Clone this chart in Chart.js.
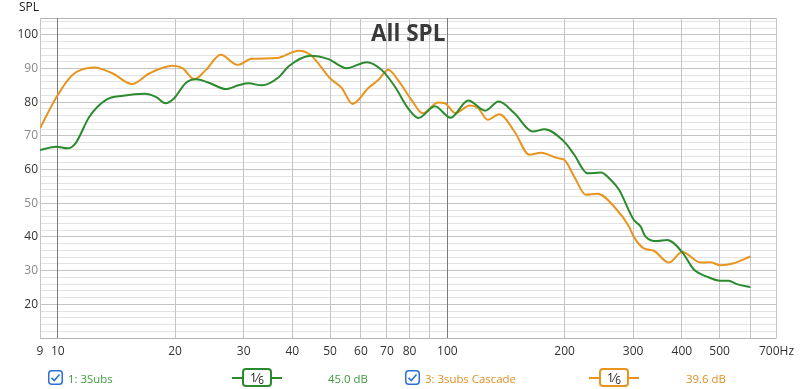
<!DOCTYPE html>
<html>
<head>
<meta charset="utf-8">
<script src="https://cdn.jsdelivr.net/npm/chart.js@4.4.1/dist/chart.umd.min.js"></script>
<style>
  html, body { margin: 0; padding: 0; background: #fff; }
  #wrap { position: relative; width: 800px; height: 389px; font-family: "Open Sans", "Noto Sans", sans-serif; }
  #grafico { position: absolute; left: 0; top: 0; }
  .item { position: absolute; top: 369px; height: 18px; display: flex; align-items: center; font-size: 11.4px; white-space: nowrap; }
  .caja { position: absolute; top: 370px; width: 15px; height: 15px; }
  .simbolo { position: absolute; top: 368px; width: 50px; height: 20px; }
  .simbolo .linea { position: absolute; left: 0; right: 0; top: 9px; height: 2px; }
  .simbolo .marco { position: absolute; left: 10px; top: 0; width: 26px; height: 15px; border: 2px solid; border-radius: 4px; background: #fff;
                    font-size: 12px; color: #222; text-align: center; line-height: 15px; }
  .simbolo .marco sub { font-size: 10px; vertical-align: -2px; }
</style>
</head>
<body>
<div id="wrap">
  <canvas id="grafico" width="800" height="389"></canvas>

  <svg class="caja" style="left:48px" viewBox="0 0 15 15"><rect x="0.75" y="0.75" width="13.5" height="13.5" rx="3" fill="#fff" stroke="#2a72d4" stroke-width="1.5"/><path d="M3.5 7.8 L6.3 10.5 L11.5 4.5" fill="none" stroke="#2a72d4" stroke-width="1.6"/></svg>
  <div class="item" style="left:68px; color:#3f9a3f">1: 3Subs</div>
  <div class="simbolo" style="left:232px">
    <div class="linea" style="background:#2b8a2e"></div>
    <div class="marco" style="border-color:#2b8a2e">1⁄<sub>6</sub></div>
  </div>
  <div class="item" style="left:328px; color:#3f9a3f">45.0 dB</div>

  <svg class="caja" style="left:405px" viewBox="0 0 15 15"><rect x="0.75" y="0.75" width="13.5" height="13.5" rx="3" fill="#fff" stroke="#2a72d4" stroke-width="1.5"/><path d="M3.5 7.8 L6.3 10.5 L11.5 4.5" fill="none" stroke="#2a72d4" stroke-width="1.6"/></svg>
  <div class="item" style="left:425px; color:#e08e24">3: 3subs Cascade</div>
  <div class="simbolo" style="left:589px">
    <div class="linea" style="background:#e8951f"></div>
    <div class="marco" style="border-color:#e8951f">1⁄<sub>6</sub></div>
  </div>
  <div class="item" style="left:686px; color:#e08e24">39.6 dB</div>
</div>

<script>
// Curvas (Hz / dB SPL)
const subsFrecuencias = [9, 9.9, 10.6, 11.1, 12.05, 13.3, 14.7, 16.7, 17.9, 18.9, 19.9, 21.3, 22.6, 24.4, 27, 29.2, 30.9, 33.4,
  36.9, 39.1, 44.5, 49.5, 55.2, 62.1, 67.8, 73.4, 79.3, 84.3, 92.9, 101.9, 113.2, 125, 135.5, 148.7, 165.8, 177.6,
  199.6, 211.8, 229, 247.7, 263, 276, 301, 313.5, 322.8, 345.9, 367, 400.8, 429, 464.4, 502.5, 527.5, 554, 600];
const subsSpl = [65.8, 66.8, 66.3, 67.8, 75.7, 80.7, 81.9, 82.5, 81.5, 79.7, 81.2, 85.7, 86.8, 85.8, 83.9, 85.1, 85.6, 85.0,
  87.4, 90.6, 93.8, 92.8, 90.1, 91.9, 89.6, 84.6, 78.2, 75.3, 78.8, 75.4, 80.5, 77.5, 80.2, 76.7, 71.3, 72.0,
  68.3, 64.4, 58.9, 59.1, 56.9, 54.0, 45.1, 43.1, 40.1, 38.8, 39.1, 35.5, 30.4, 28.2, 27.0, 27.0, 26.0, 25.1];

const cascadaFrecuencias = [9, 10, 10.9, 12.4, 13.8, 15.5, 17.2, 19.7, 20.9, 22.4, 24, 26.2, 28.9, 31.5, 36.5, 41.5, 44.5,
  50, 53.6, 57.1, 62.7, 66.5, 70.5, 74.8, 80.9, 86.5, 94.7, 98.5, 105, 114.3, 120, 127, 136, 148.7, 162.5, 174, 192,
  199.6, 211.8, 227, 243, 270, 292.7, 301, 319.7, 339, 370.5, 400.8, 446.7, 473.8, 502.5, 543.7, 600];
const cascadaSpl = [72.3, 82.2, 88.1, 90.3, 88.6, 85.4, 88.6, 90.8, 90.1, 86.8, 89.6, 94.1, 91.1, 92.9, 93.1, 95.3, 94.1,
  87.1, 84.2, 79.5, 84.2, 86.6, 89.6, 86.5, 80.7, 76.7, 79.9, 79.7, 76.8, 79.0, 78.2, 74.8, 76.4, 71.3, 64.4, 65.0, 63.4,
  62.9, 57.9, 52.5, 52.8, 48.6, 43.1, 40.1, 36.6, 35.9, 32.4, 35.5, 32.4, 32.5, 31.6, 32.2, 34.2];

const ticksX = [9, 10, 20, 30, 40, 50, 60, 70, 80, 90, 100, 200, 300, 400, 500, 600, 700];
const etiquetasX = ['9', '10', '20', '30', '40', '50', '60', '70', '80', '', '100', '200', '300', '400', '500', '', '700Hz'];
const ticksY = [];
for (let v = 10; v <= 104; v += 2) ticksY.push(v);
ticksY.push(105);

const aPuntos = (xs, ys) => xs.map((x, i) => ({ x, y: ys[i] }));

// Título "All SPL" dentro del área y rótulo "SPL" del eje
const textos = {
  id: 'textos',
  afterDraw(chart) {
    const { ctx, chartArea } = chart;
    ctx.save();
    ctx.fillStyle = '#3a3a3a';
    ctx.font = 'bold 22.5px "Open Sans"';
    ctx.textAlign = 'center';
    ctx.textBaseline = 'middle';
    ctx.fillText('All SPL', (chartArea.left + chartArea.right) / 2, 35);
    ctx.fillStyle = '#222';
    ctx.font = '12px "Open Sans"';
    ctx.textAlign = 'left';
    ctx.fillText('SPL', 19, 8);
    ctx.restore();
  }
};

new Chart(document.getElementById('grafico'), {
  type: 'line',
  data: {
    datasets: [
      { label: '1: 3Subs', data: aPuntos(subsFrecuencias, subsSpl), borderColor: '#2b8a2e', borderWidth: 2,
        pointRadius: 0, cubicInterpolationMode: 'monotone', fill: false },
      { label: '3: 3subs Cascade', data: aPuntos(cascadaFrecuencias, cascadaSpl), borderColor: '#e8951f', borderWidth: 2,
        pointRadius: 0, cubicInterpolationMode: 'monotone', fill: false },
    ],
  },
  options: {
    responsive: false,
    animation: false,
    layout: { padding: { top: 18, right: 20, left: 0, bottom: 0 } },
    plugins: { legend: { display: false }, tooltip: { enabled: false } },
    scales: {
      x: {
        type: 'logarithmic', min: 9, max: 700,
        afterBuildTicks: (s) => { s.ticks = ticksX.map(v => ({ value: v })); },
        afterFit: (s) => { s.height = 51; },
        grid: {
          drawTicks: false, z: -1,
          color: (c) => (c.tick && (c.tick.value === 10 || c.tick.value === 100)) ? '#7a7a7a' : '#c4c4c4',
        },
        border: { display: false },
        ticks: {
          autoSkip: false, maxRotation: 0, padding: 6, color: '#333',
          font: { family: 'Open Sans', size: 12 },
          callback: (v) => etiquetasX[ticksX.indexOf(v)] ?? '',
        },
      },
      y: {
        min: 10, max: 105,
        afterBuildTicks: (s) => { s.ticks = ticksY.map(v => ({ value: v })); },
        afterFit: (s) => { s.width = 40; },
        grid: {
          drawTicks: false, z: -2,
          color: (c) => {
            const v = c.tick ? c.tick.value : 0;
            if (v === 10 || v === 105) return '#b4b4b4';
            return v % 10 === 0 ? '#c4c4c4' : '#e3e3e3';
          },
        },
        border: { display: false },
        ticks: {
          autoSkip: false, padding: 2,
          font: { family: 'Open Sans', size: 12 },
          color: (c) => (c.tick && c.tick.value % 20 === 0) ? '#333' : '#8a8a8a',
          callback: (v) => (v % 10 === 0 && v >= 20 && v <= 100) ? String(v) : '',
        },
      },
    },
  },
  plugins: [textos],
});
</script>
</body>
</html>
